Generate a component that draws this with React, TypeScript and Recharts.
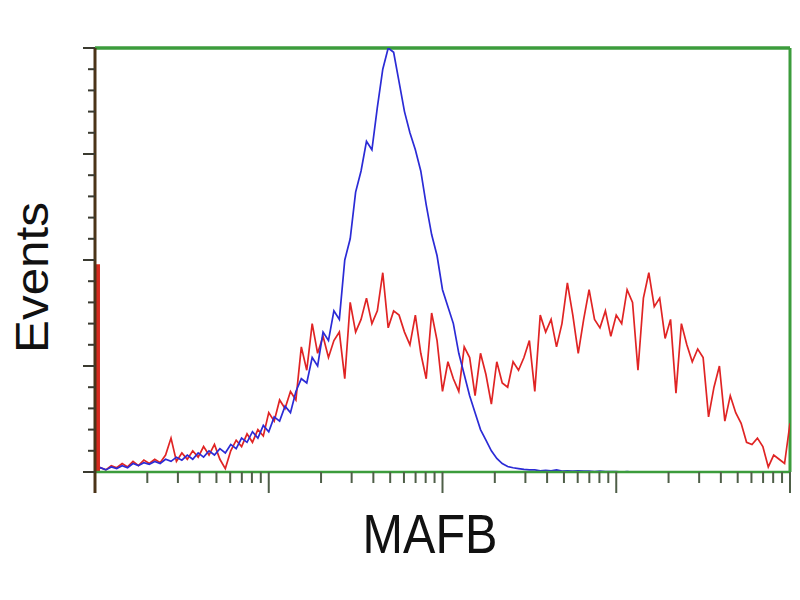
import React from 'react';
import { ComposedChart, Line, XAxis, YAxis, ReferenceLine } from 'recharts';

// Red histogram (channels 0..128, log scale: 32 channels per decade)
const redValues = [
  0.5, 1.0, 0.5, 1.5, 1.0, 2.0, 1.2, 2.5, 1.5, 2.8,
  2.0, 3.0, 2.2, 4.0, 8.0, 2.5, 4.5, 3.0, 5.0, 3.5,
  6.0, 4.0, 6.5, 3.0, 0.8, 5.0, 7.5, 6.0, 9.0, 7.0,
  10.0, 8.5, 14.0, 12.0, 17.0, 15.0, 19.0, 17.0, 29.5, 24.0,
  35.0, 28.0, 32.0, 27.0, 31.0, 33.0, 22.0, 40.0, 33.0, 36.0,
  41.0, 35.0, 38.0, 47.0, 34.0, 38.0, 37.0, 33.0, 30.0, 37.0,
  28.0, 22.0, 37.5, 31.0, 19.0, 26.0, 22.0, 19.0, 29.5, 27.0,
  18.0, 28.0, 23.0, 16.0, 26.0, 21.0, 20.0, 26.0, 24.0, 27.0,
  31.0, 19.0, 37.0, 33.0, 36.0, 29.5, 35.0, 44.6, 37.0, 28.0,
  36.0, 43.0, 36.0, 34.0, 38.0, 32.0, 37.0, 35.0, 43.0, 40.0,
  24.0, 41.0, 47.0, 39.0, 41.0, 31.5, 36.0, 18.6, 35.0, 30.0,
  26.0, 29.0, 27.0, 13.0, 20.0, 25.0, 12.0, 18.0, 14.0, 11.5,
  7.0, 6.5, 8.0, 6.0, 1.2, 4.0, 3.0, 2.0, 11.5,
];

// Blue histogram (channels 0..100)
const blueValues = [
  0.5, 1.0, 0.5, 1.2, 0.8, 1.5, 1.0, 2.0, 1.5, 2.2,
  1.8, 2.5, 2.0, 3.0, 2.5, 3.5, 2.8, 4.0, 3.0, 4.5,
  3.5, 5.0, 4.0, 5.5, 4.5, 6.5, 5.5, 8.0, 7.0, 9.5,
  8.0, 11.0, 9.5, 13.0, 12.0, 15.5, 14.0, 19.0, 22.0, 21.0,
  27.0, 25.0, 33.0, 31.0, 38.0, 36.0, 50.0, 55.0, 66.0, 71.0,
  78.0, 76.0, 86.0, 95.0, 100.0, 99.0, 92.0, 85.0, 80.0, 76.0,
  71.0, 63.0, 56.0, 51.0, 43.0, 39.0, 35.0, 28.0, 23.0, 18.0,
  14.0, 10.0, 7.5, 5.0, 3.2, 2.0, 1.3, 1.0, 0.8, 0.6,
  0.5, 0.5, 0.3, 0.4, 0.3, 0.5, 0.2, 0.3, 0.2, 0.3,
  0.2, 0.2, 0.1, 0.2, 0.1, 0.1, 0.1, 0.0, 0.1, 0.0,
  0.0,
];

// Spike at the low end of the red histogram
const spikeChannel = 0.55;
const spikeValues = [0, 49];

const majorXTicks = [0, 32, 64, 96, 128];
const minorXTicks: number[] = [];
for (let d = 0; d < 4; d++) {
  for (let k = 2; k <= 9; k++) minorXTicks.push(32 * (d + Math.log10(k)));
}
const xTicks = [...majorXTicks, ...minorXTicks].sort((a, b) => a - b);

const majorYTicks = [0, 25, 50, 75, 100];
const yTicks: number[] = [];
for (let v = 0; v <= 100; v += 5) yTicks.push(v);

const redData = redValues.map((v, i) => ({ ch: i, v }));
const blueData = blueValues.map((v, i) => ({ ch: i, v }));
const spikeData = spikeValues.map((v) => ({ ch: spikeChannel, v }));

const GREEN = '#3c9c3c';

const XTick = (props: any) => {
  const { x, y, payload } = props;
  const major = majorXTicks.some((m) => Math.abs(m - payload.value) < 1e-6);
  const isZero = Math.abs(payload.value) < 1e-6;
  return (
    <line
      x1={x}
      x2={x}
      y1={y}
      y2={y + (major ? 21 : 11)}
      stroke={isZero ? '#4b3418' : '#4f5f48'}
      strokeWidth={isZero ? 3 : 2}
    />
  );
};

const YTick = (props: any) => {
  const { x, y, payload } = props;
  const major = majorYTicks.includes(payload.value);
  return (
    <line x1={x - (major ? 12 : 7)} x2={x} y1={y} y2={y} stroke="#3a3a30" strokeWidth={2} />
  );
};

export default function App() {
  return (
    <div style={{ position: 'absolute', left: 0, top: 0, width: 800, height: 600, background: '#fff' }}>
      <ComposedChart width={800} height={600} margin={{ top: 48, right: 10, bottom: 98, left: 65 }}>
        <XAxis
          dataKey="ch"
          type="number"
          domain={[0, 128]}
          allowDataOverflow
          ticks={xTicks}
          interval={0}
          tick={<XTick />}
          tickLine={false}
          tickSize={0}
          tickMargin={0}
          height={30}
          axisLine={{ stroke: GREEN, strokeWidth: 2.5 }}
        />
        <YAxis
          type="number"
          domain={[0, 100]}
          allowDataOverflow
          ticks={yTicks}
          interval={0}
          tick={<YTick />}
          tickLine={false}
          tickSize={0}
          tickMargin={0}
          width={30}
          axisLine={{ stroke: '#4b3418', strokeWidth: 3 }}
        />
        <ReferenceLine y={100} stroke={GREEN} strokeWidth={3.5} />
        <ReferenceLine x={128} stroke={GREEN} strokeWidth={3} />
        <Line
          data={redData}
          dataKey="v"
          type="linear"
          stroke="#e02424"
          strokeWidth={1.7}
          dot={false}
          isAnimationActive={false}
        />
        <Line
          data={blueData}
          dataKey="v"
          type="linear"
          stroke="#2b2bd6"
          strokeWidth={1.7}
          dot={false}
          isAnimationActive={false}
        />
        <Line
          data={spikeData}
          dataKey="v"
          type="linear"
          stroke="#d62a1e"
          strokeWidth={4}
          dot={false}
          isAnimationActive={false}
        />
      </ComposedChart>
      <svg
        width={800}
        height={600}
        style={{ position: 'absolute', left: 0, top: 0, pointerEvents: 'none' }}
      >
        <text
          x={0}
          y={0}
          textAnchor="middle"
          fontFamily="Liberation Sans, Arial, sans-serif"
          fontSize={48.6}
          fill="#111"
          transform="translate(430,553) scale(1,1.15)"
        >
          MAFB
        </text>
        <text
          x={0}
          y={0}
          textAnchor="middle"
          fontFamily="Liberation Sans, Arial, sans-serif"
          fontSize={49.4}
          fill="#111"
          transform="translate(48,277.5) rotate(-90) scale(1,0.93)"
        >
          Events
        </text>
      </svg>
    </div>
  );
}
